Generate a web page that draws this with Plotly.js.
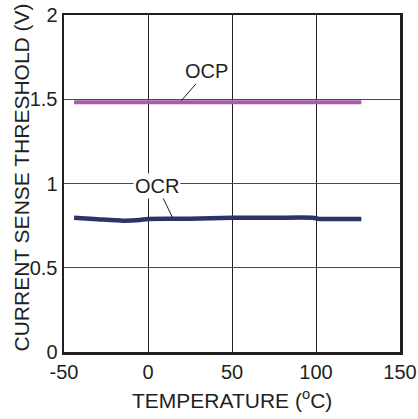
<!DOCTYPE html>
<html>
<head>
<meta charset="utf-8">
<script src="https://cdn.plot.ly/plotly-3.0.1.min.js"></script>
<style>html,body{margin:0;padding:0;background:#fff;}#chart{width:418px;height:419px;}</style>
</head>
<body>
<div id="chart"></div>
<script>
// Temperature (°C) and current sense threshold (V)
const ocpTemp = [-44, 0, 50, 100, 127];
const ocpVolt = [1.482, 1.482, 1.482, 1.482, 1.482];
const ocrTemp = [-44, -30, -15, -5, 0, 25, 50, 75, 98, 102, 127];
const ocrVolt = [0.797, 0.788, 0.779, 0.783, 0.790, 0.791, 0.797, 0.797, 0.797, 0.790, 0.790];
const xTicks = [-50, 0, 50, 100, 150];
const yTicks = [0, 0.5, 1, 1.5, 2];
const yTickText = ['0', '0.5', '1', '1.5', '2'];
const xTitle = 'TEMPERATURE (<sup>o</sup>C)';
const yTitle = 'CURRENT SENSE THRESHOLD (V)';

const font = {family: 'Liberation Sans, Arial, sans-serif', size: 20, color: '#231f20'};
const titleFont = {family: 'Liberation Sans, Arial, sans-serif', size: 21, color: '#231f20'};

const traces = [
  {x: ocpTemp, y: ocpVolt, mode: 'lines', line: {color: '#a85ba8', width: 4}, name: 'OCP', hoverinfo: 'skip'},
  {x: ocrTemp, y: ocrVolt, mode: 'lines', line: {color: '#2c3366', width: 4.5, shape: 'spline', smoothing: 0.6}, name: 'OCR', hoverinfo: 'skip'}
];

const layout = {
  width: 418, height: 419,
  margin: {l: 64, r: 18, t: 15, b: 67},
  paper_bgcolor: '#fff', plot_bgcolor: '#fff',
  showlegend: false,
  font: font,
  xaxis: {
    range: [-50, 150], tickvals: xTicks, ticktext: xTicks.map(String),
    showgrid: true, gridcolor: '#231f20', gridwidth: 1,
    showline: true, linecolor: '#231f20', linewidth: 2.5, mirror: true,
    zeroline: false, ticks: '', ticklen: 0,
    tickfont: font
  },
  yaxis: {
    range: [0, 2], tickvals: yTicks, ticktext: yTickText,
    showgrid: true, gridcolor: '#4a4a4a', gridwidth: 1,
    showline: true, linecolor: '#231f20', linewidth: 2.5, mirror: true,
    zeroline: false, ticks: '', ticklen: 0,
    tickfont: font
  },
  annotations: [
    {x: 19, y: 1.482, xref: 'x', yref: 'y', text: 'OCP', showarrow: true, arrowhead: 0,
     arrowwidth: 1, arrowcolor: '#231f20', ax: 27, ay: -31, font: font, standoff: 2},
    {x: 15, y: 0.79, xref: 'x', yref: 'y', text: 'OCR', showarrow: true, arrowhead: 0,
     arrowwidth: 1, arrowcolor: '#231f20', ax: -16, ay: -33, font: font, bgcolor: '#fff', borderpad: 1, standoff: 2},
    {x: 0.5, y: 0, xref: 'paper', yref: 'paper', text: xTitle, showarrow: false,
     xanchor: 'center', yanchor: 'middle', yshift: -47, font: titleFont},
    {x: 0, y: 0.5, xref: 'paper', yref: 'paper', text: yTitle, showarrow: false, textangle: -90,
     xanchor: 'center', yanchor: 'middle', xshift: -43, yshift: 6, font: titleFont}
  ]
};

Plotly.newPlot('chart', traces, layout, {displayModeBar: false, staticPlot: true});
</script>
</body>
</html>
